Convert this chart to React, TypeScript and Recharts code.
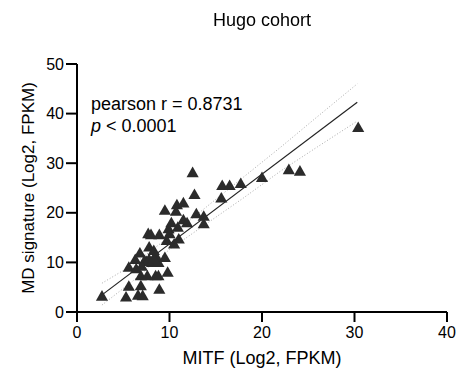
import { ScatterChart, Scatter, XAxis, YAxis, ZAxis } from "recharts"

// MITF vs MD signature
const mitf = [
  2.7, 5.3, 5.6, 5.6, 6.3, 6.4, 6.8, 6.9, 6.9, 6.6, 7.1, 7.6, 7.3, 7.5, 7.8, 8.1,
  7.7, 8.0, 7.8, 8.3, 8.5, 8.5, 8.8, 8.8, 8.9, 8.9, 9.5, 9.8, 9.5, 9.7, 9.9, 10.0,
  10.2, 10.5, 10.7, 10.8, 10.9, 11.0, 11.5, 11.5, 11.9, 12.5, 12.7, 12.9, 13.7, 13.7,
  15.6, 15.7, 16.5, 17.7, 20.0, 22.9, 24.1, 30.4, 7.7, 8.3, 7.0,
]
const mdSignature = [
  3.0, 2.8, 5.0, 8.8, 10.4, 8.5, 11.7, 7.1, 5.1, 3.2, 3.1, 7.1, 10.2, 10.0, 10.4, 9.8,
  15.6, 15.4, 12.9, 12.2, 11.2, 7.1, 7.1, 9.8, 15.4, 4.4, 10.8, 7.8, 20.3, 14.2, 16.6, 15.6,
  17.8, 13.5, 20.1, 21.4, 16.9, 14.5, 21.8, 18.4, 17.8, 27.9, 23.5, 19.6, 19.1, 17.6,
  22.8, 25.3, 25.3, 25.7, 26.9, 28.5, 28.2, 37.0, 10.1, 10.6, 9.0,
]

// linear fit and 95% band
const fitX = [2.67, 30.3]
const fitY = [3.4, 42.3]
const bandX = [2.7, 6, 10, 14, 18, 22, 26, 30.3]
const bandUpper = [5.8, 9.5, 15.2, 21.2, 27.2, 33.2, 39.4, 46.0]
const bandLower = [1.4, 6.2, 12.6, 17.8, 23.0, 28.4, 33.3, 38.5]

const xTicks = [0, 10, 20, 30, 40]
const yTicks = [0, 10, 20, 30, 40, 50]

const points = mitf.map((x, i) => ({ x, y: mdSignature[i] }))
const fit = fitX.map((x, i) => ({ x, y: fitY[i] }))
const upper = bandX.map((x, i) => ({ x, y: bandUpper[i] }))
const lower = bandX.map((x, i) => ({ x, y: bandLower[i] }))

const font = "'Liberation Sans', Arial, sans-serif"
const noDot = () => null

export default function App() {
  return (
    <div style={{ position: "fixed", top: 0, left: 0, width: 457, height: 376, background: "#fff", fontFamily: font }}>
      <ScatterChart width={457} height={376} margin={{ top: 64, right: 10, bottom: 14, left: 0 }}>
        <XAxis
          type="number" dataKey="x" domain={[0, 40]} ticks={xTicks} height={50}
          axisLine={{ stroke: "#000", strokeWidth: 2 }}
          tickLine={{ stroke: "#000", strokeWidth: 2 }} tickSize={10} tickMargin={5}
          tick={{ fill: "#000", fontSize: 16, fontFamily: font }}
          label={{ value: "MITF (Log2, FPKM)", position: "insideBottom", offset: -2, fill: "#000", fontSize: 18, fontFamily: font }}
        />
        <YAxis
          type="number" dataKey="y" domain={[0, 50]} ticks={yTicks} width={77}
          axisLine={{ stroke: "#000", strokeWidth: 2 }}
          tickLine={{ stroke: "#000", strokeWidth: 2 }} tickSize={11} tickMargin={2}
          tick={{ fill: "#000", fontSize: 16, fontFamily: font }}
          label={{ value: "MD signature (Log2, FPKM)", angle: -90, position: "center", dx: -11, fill: "#000", fontSize: 17, fontFamily: font }}
        />
        <ZAxis range={[44, 44]} />
        <Scatter data={upper} line={{ stroke: "#aaa", strokeWidth: 1, strokeDasharray: "1 2" }} shape={noDot} isAnimationActive={false} />
        <Scatter data={lower} line={{ stroke: "#aaa", strokeWidth: 1, strokeDasharray: "1 2" }} shape={noDot} isAnimationActive={false} />
        <Scatter data={fit} line={{ stroke: "#222", strokeWidth: 1.2 }} shape={noDot} isAnimationActive={false} />
        <Scatter data={points} shape="triangle" fill="#2b2b2b" isAnimationActive={false} />
      </ScatterChart>
      <div style={{ position: "absolute", left: 0, width: 524, top: 10, textAlign: "center", fontSize: 18, lineHeight: "21px", color: "#000" }}>
        Hugo cohort
      </div>
      <div style={{ position: "absolute", left: 91, top: 93, fontSize: 18, lineHeight: "22px", color: "#000" }}>
        <div>pearson r = 0.8731</div>
        <div><i>p</i> &lt; 0.0001</div>
      </div>
    </div>
  )
}
